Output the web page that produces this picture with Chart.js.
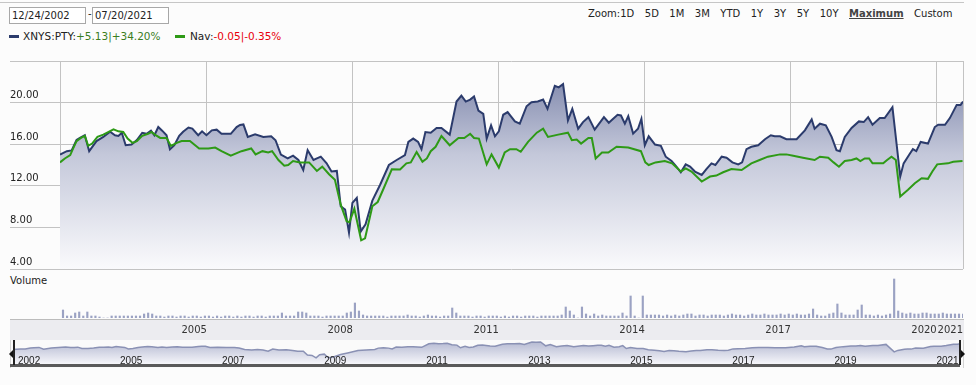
<!DOCTYPE html>
<html>
<head>
<meta charset="utf-8">
<title>PTY - precio y NAV</title>
<script src="https://cdn.jsdelivr.net/npm/chart.js@4.4.1/dist/chart.umd.min.js"></script>
<style>
    body {
        margin: 0;
        width: 976px;
        height: 385px;
        position: relative;
        overflow: hidden;
        background: #fcfcfc;
        font-family: "DejaVu Sans", Verdana, sans-serif;
        color: #222;
    }
    .abs { position: absolute; }
    canvas { position: absolute; left: 0; z-index: 2; }
    .topline { left: 0; top: 2px; width: 964px; height: 1px; background: #c6c6c6; }
    .datebox {
        top: 7px; width: 77px; height: 17px; box-sizing: border-box;
        border: 1px solid #a8a8a8; background: #fff;
        font: 10px "DejaVu Sans", sans-serif; color: #222;
        padding: 0 0 0 2px; margin: 0; outline: none;
    }
    .dash { left: 88px; top: 8px; font-size: 10px; }
    .zoom { left: 588px; top: 8px; font-size: 10px; white-space: nowrap; }
    .zoom span { margin-left: 10.5px; }
    .zoom span.first { margin-left: 0; }
    .zoom span.sel { font-weight: bold; text-decoration: underline; color: #444; }
    .legend { top: 30px; font-size: 10.5px; white-space: nowrap; }
    .swatch { height: 3px; width: 10px; }
    .up { color: #3b7d1f; }
    .down { color: #e8000b; }
    .vol-label { left: 10px; top: 275px; font-size: 10px; }
    .band { left: 10px; top: 319px; width: 954px; height: 21px; background: #ececf0; border-top: 1px solid #bcbcbc; box-sizing: border-box; }
    .navbox { left: 10px; top: 340px; width: 954px; height: 28px; background: #fafafa; border-left: 1px solid #d4d4d4; border-right: 1px solid #d4d4d4; box-sizing: border-box; }
    .scrollbar { left: 10px; top: 364px; width: 950px; height: 3px; background: #5a5a5a; z-index: 3; }
    .handle { top: 340px; width: 1.5px; height: 25px; background: #222; z-index: 3; }
    .tri-left { left: 9px; top: 350px; width: 0; height: 0; border-top: 4px solid transparent; border-bottom: 4px solid transparent; border-right: 4px solid #111; z-index: 3; }
    .tri-right { left: 961px; top: 350px; width: 0; height: 0; border-top: 4px solid transparent; border-bottom: 4px solid transparent; border-left: 4px solid #111; z-index: 3; }
</style>
</head>
<body>
<div class="abs topline"></div>
<input class="abs datebox" style="left:9px" type="text" value="12/24/2002">
<div class="abs dash">-</div>
<input class="abs datebox" style="left:92px" type="text" value="07/20/2021">
<div class="abs zoom">Zoom:<span class="first">1D</span><span>5D</span><span>1M</span><span>3M</span><span>YTD</span><span>1Y</span><span>3Y</span><span>5Y</span><span>10Y</span><span class="sel">Maximum</span><span>Custom</span></div>

<div class="abs swatch" style="left:9px; top:35px; background:#2b3b6c"></div>
<div class="abs legend" style="left:23px">XNYS:PTY:<span class="up">+5.13|+34.20%</span></div>
<div class="abs swatch" style="left:175px; top:35px; background:#2e9a16"></div>
<div class="abs legend" style="left:190px">Nav:<span class="down">-0.05|-0.35%</span></div>

<div class="abs vol-label">Volume</div>
<div class="abs band"></div>
<div class="abs navbox"></div>
<div class="abs scrollbar"></div>
<div class="abs handle" style="left:13px"></div>
<div class="abs handle" style="left:959px"></div>
<div class="abs tri-left"></div>
<div class="abs tri-right"></div>

<canvas id="priceChart" width="976" height="275" style="top:0"></canvas>
<canvas id="volumeChart" width="976" height="68" style="top:272px"></canvas>
<canvas id="navigatorChart" width="976" height="24" style="top:340px"></canvas>

<script>
// rango visible 12/24/2002 - 07/20/2021 en años decimales
const startYear = 2002.98;
const endYear = 2021.54;

// precio de mercado XNYS:PTY
const priceYears = [
    2002.98, 2003.12, 2003.22, 2003.32, 2003.39, 2003.49, 2003.58, 2003.73, 2003.87, 2004.01,
    2004.11, 2004.18, 2004.25, 2004.33, 2004.45, 2004.56, 2004.67, 2004.76, 2004.85, 2004.92,
    2005.00, 2005.08, 2005.17, 2005.24, 2005.33, 2005.43, 2005.51, 2005.62, 2005.70, 2005.82,
    2005.90, 2005.99, 2006.10, 2006.20, 2006.30, 2006.49, 2006.61, 2006.68, 2006.75, 2006.84,
    2006.99, 2007.16, 2007.32, 2007.41, 2007.52, 2007.66, 2007.77, 2007.88, 2007.98, 2008.07,
    2008.19, 2008.34, 2008.46, 2008.56, 2008.67, 2008.75, 2008.84, 2008.92, 2008.99, 2009.08,
    2009.16, 2009.26, 2009.40, 2009.56, 2009.74, 2009.90, 2010.07, 2010.14, 2010.24, 2010.34,
    2010.41, 2010.49, 2010.60, 2010.72, 2010.82, 2010.99, 2011.13, 2011.23, 2011.32, 2011.41,
    2011.49, 2011.58, 2011.68, 2011.75, 2011.84, 2011.92, 2012.00, 2012.09, 2012.18, 2012.33,
    2012.43, 2012.57, 2012.67, 2012.80, 2012.91, 2013.00, 2013.15, 2013.23, 2013.32, 2013.42,
    2013.51, 2013.63, 2013.73, 2013.84, 2013.97, 2014.16, 2014.26, 2014.35, 2014.44, 2014.51,
    2014.59, 2014.66, 2014.76, 2014.86, 2014.93, 2015.00, 2015.08, 2015.21, 2015.33, 2015.43,
    2015.55, 2015.65, 2015.74, 2015.84, 2015.93, 2016.03, 2016.17, 2016.27, 2016.37, 2016.45,
    2016.58, 2016.68, 2016.80, 2016.92, 2017.00, 2017.09, 2017.19, 2017.33, 2017.47, 2017.59,
    2017.67, 2017.78, 2017.91, 2018.12, 2018.29, 2018.43, 2018.49, 2018.60, 2018.72, 2018.84,
    2018.94, 2019.01, 2019.11, 2019.25, 2019.40, 2019.50, 2019.59, 2019.68, 2019.83, 2019.93,
    2020.09, 2020.25, 2020.32, 2020.45, 2020.51, 2020.58, 2020.67, 2020.82, 2020.96, 2021.03,
    2021.17, 2021.27, 2021.41, 2021.49, 2021.54
];
const priceValues = [
    15.00, 15.33, 15.40, 16.40, 16.60, 16.86, 15.33, 16.30, 16.70, 17.20,
    16.86, 16.80, 17.10, 15.90, 15.97, 16.40, 17.10, 17.00, 17.30, 16.86,
    17.65, 17.30, 16.86, 15.50, 15.90, 16.80, 17.20, 17.60, 17.50, 16.86,
    17.24, 16.86, 17.33, 17.40, 17.00, 17.00, 17.65, 17.85, 17.90, 16.70,
    16.95, 16.70, 16.76, 16.38, 15.00, 14.63, 14.90, 14.48, 13.52, 15.43,
    14.48, 14.80, 14.16, 13.37, 13.43, 10.03, 9.71, 7.50, 10.35, 10.83,
    7.59, 8.29, 10.57, 12.10, 14.00, 14.48, 14.95, 16.22, 16.54, 16.22,
    15.52, 17.17, 17.11, 17.56, 17.56, 16.92, 20.10, 20.67, 20.10, 20.29,
    20.60, 19.24, 18.92, 16.54, 17.81, 16.76, 17.24, 18.83, 19.08, 18.19,
    17.97, 19.65, 20.03, 20.10, 20.29, 19.40, 21.62, 21.46, 21.78, 18.29,
    19.40, 17.49, 18.13, 18.60, 17.40, 18.60, 18.06, 18.44, 18.83, 18.76,
    17.97, 18.70, 17.02, 17.49, 18.44, 15.90, 16.76, 15.97, 15.84, 14.80,
    14.38, 13.84, 13.30, 14.06, 13.84, 13.37, 13.05, 13.62, 14.16, 14.00,
    14.80, 14.70, 14.25, 14.06, 14.25, 15.52, 15.75, 15.90, 16.48, 16.86,
    16.76, 16.76, 16.48, 16.48, 17.33, 18.38, 17.49, 17.97, 17.81, 16.70,
    15.43, 15.33, 16.70, 17.56, 18.19, 18.13, 18.60, 17.87, 18.51, 18.51,
    19.56, 12.89, 14.16, 15.11, 15.52, 15.33, 16.22, 16.06, 17.65, 17.87,
    17.87, 18.51, 19.78, 19.78, 20.10
];

// valor liquidativo (Nav)
const navYears = [
    2002.98, 2003.08, 2003.19, 2003.25, 2003.32, 2003.41, 2003.49, 2003.56, 2003.64, 2003.75,
    2003.87, 2003.97, 2004.08, 2004.18, 2004.28, 2004.37, 2004.47, 2004.56, 2004.67, 2004.79,
    2004.86, 2004.93, 2005.04, 2005.17, 2005.26, 2005.38, 2005.48, 2005.65, 2005.84, 2006.03,
    2006.17, 2006.30, 2006.49, 2006.71, 2006.91, 2007.00, 2007.14, 2007.26, 2007.34, 2007.47,
    2007.59, 2007.67, 2007.77, 2007.91, 2008.10, 2008.26, 2008.37, 2008.51, 2008.63, 2008.75,
    2008.87, 2008.93, 2009.03, 2009.17, 2009.25, 2009.40, 2009.51, 2009.62, 2009.80, 2009.97,
    2010.10, 2010.19, 2010.31, 2010.43, 2010.52, 2010.60, 2010.70, 2010.82, 2010.99, 2011.17,
    2011.29, 2011.41, 2011.49, 2011.59, 2011.75, 2011.85, 2012.00, 2012.12, 2012.23, 2012.36,
    2012.45, 2012.60, 2012.78, 2012.91, 2013.01, 2013.22, 2013.42, 2013.50, 2013.60, 2013.69,
    2013.84, 2013.91, 2013.99, 2014.12, 2014.25, 2014.42, 2014.66, 2014.92, 2015.01, 2015.08,
    2015.22, 2015.41, 2015.56, 2015.74, 2015.84, 2015.96, 2016.17, 2016.34, 2016.47, 2016.61,
    2016.78, 2016.99, 2017.19, 2017.36, 2017.53, 2017.78, 2017.91, 2018.05, 2018.25, 2018.49,
    2018.60, 2018.77, 2018.88, 2018.99, 2019.11, 2019.25, 2019.35, 2019.43, 2019.52, 2019.61,
    2019.68, 2019.90, 2019.98, 2020.07, 2020.16, 2020.25, 2020.41, 2020.55, 2020.69, 2020.82,
    2020.91, 2021.01, 2021.23, 2021.34, 2021.53
];
const navValues = [
    14.25, 14.63, 14.95, 15.59, 16.30, 16.60, 16.80, 15.84, 16.06, 16.70,
    16.92, 17.17, 17.43, 17.24, 17.17, 16.54, 16.13, 16.30, 16.80, 17.00,
    17.17, 16.92, 16.60, 16.60, 15.84, 16.13, 16.30, 16.30, 15.59, 15.59,
    15.68, 15.33, 14.89, 15.33, 15.59, 15.02, 15.33, 15.20, 15.33, 14.48,
    13.94, 14.00, 14.38, 14.25, 14.25, 13.43, 13.84, 13.11, 12.57, 10.19,
    8.60, 8.50, 9.80, 6.76, 6.95, 10.03, 10.44, 11.62, 13.59, 13.56,
    14.16, 14.25, 15.25, 14.32, 14.63, 15.33, 15.75, 16.79, 15.90, 16.60,
    16.60, 17.00, 16.60, 16.54, 14.06, 15.02, 13.75, 15.20, 15.52, 15.52,
    15.27, 16.22, 17.11, 17.49, 16.70, 16.92, 17.11, 16.38, 16.44, 16.06,
    16.60, 16.60, 14.63, 15.20, 15.20, 15.75, 15.68, 15.33, 14.25, 14.00,
    14.25, 14.38, 14.16, 13.37, 13.68, 13.37, 12.41, 12.89, 12.98, 13.30,
    13.62, 13.52, 14.16, 14.48, 14.80, 15.02, 15.02, 14.89, 14.70, 14.48,
    14.80, 14.70, 14.25, 13.84, 14.38, 14.48, 14.63, 14.38, 14.63, 14.63,
    14.16, 14.16, 14.48, 14.80, 14.48, 10.98, 11.62, 12.25, 12.73, 12.67,
    13.37, 14.06, 14.16, 14.32, 14.38
];

// volumen mensual desde enero 2003
const volumeStartYear = 2003;
const volumeByMonth = [
    8, 2, 2, 5, 6, 2, 6, 2, 2, 1, 0, 0,
    2, 2, 2, 2, 2, 2, 2, 2, 4, 5, 4, 2,
    2, 1, 2, 2, 1, 2, 2, 1, 2, 2, 1, 2,
    2, 1, 2, 1, 2, 2, 1, 2, 1, 2, 2, 1,
    2, 2, 1, 2, 2, 2, 5, 2, 2, 2, 6, 6,
    5, 2, 2, 2, 1, 2, 2, 2, 2, 2, 5, 6,
    15, 7, 3, 2, 2, 2, 2, 2, 1, 2, 2, 2,
    2, 3, 2, 2, 1, 2, 3, 2, 2, 1, 2, 2,
    10, 5, 2, 2, 2, 1, 2, 2, 1, 2, 2, 2,
    1, 2, 1, 2, 2, 1, 2, 2, 2, 1, 2, 2,
    2, 2, 2, 3, 11, 7, 3, 0, 11, 4, 2, 4,
    2, 3, 2, 2, 2, 2, 5, 2, 22, 2, 0, 22,
    3, 3, 3, 3, 2, 3, 2, 3, 2, 3, 4, 4,
    2, 3, 3, 2, 3, 3, 3, 2, 3, 4, 3, 3,
    2, 3, 4, 3, 3, 4, 3, 3, 3, 4, 3, 4,
    3, 4, 3, 3, 4, 9, 3, 2, 2, 4, 5, 14,
    5, 3, 3, 3, 8, 13, 3, 3, 2, 3, 2, 3,
    4, 39, 7, 5, 4, 5, 4, 4, 5, 5, 4, 4,
    4, 5, 4, 4, 4, 4, 4
];

// ejes
const yTicks = [4, 8, 12, 16, 20, 24];
const gridYears = [2006, 2009, 2012, 2015, 2018, 2021];
const bandLabels = ['2005', '2008', '2011', '2014', '2017', '2020', '2021'];
const navTickYears = [2002.98, 2004.98, 2006.98, 2008.98, 2010.98, 2012.98, 2014.98, 2016.98, 2018.98, 2020.98];
const navTickLabels = ['2002', '2005', '2007', '2009', '2011', '2013', '2015', '2017', '2019', '2021'];

const gridColor = '#c3c3c3';

function toPoints(xs, ys) {
    return xs.map((x, i) => ({ x: x, y: ys[i] }));
}

function verticalGradient(context, stops) {
    const chart = context.chart;
    const area = chart.chartArea;
    if (!area) {
        return 'rgba(0,0,0,0)';
    }
    const g = chart.ctx.createLinearGradient(0, area.top, 0, area.bottom);
    stops.forEach(s => g.addColorStop(s[0], s[1]));
    return g;
}

function renderPriceChart() {
    const ctx = document.getElementById('priceChart');

    const datasets = [
        {
            label: 'Nav',
            data: toPoints(navYears, navValues),
            borderColor: '#2e9a16',
            borderWidth: 2,
            pointRadius: 0,
            fill: false
        },
        {
            label: 'XNYS:PTY',
            data: toPoints(priceYears, priceValues),
            borderColor: '#2b3b6c',
            borderWidth: 2,
            pointRadius: 0,
            fill: 'start',
            backgroundColor: (context) => verticalGradient(context, [
                [0, 'rgb(116,125,164)'],
                [0.45, 'rgb(196,200,218)'],
                [1, 'rgb(250,250,252)']
            ])
        }
    ];

    const options = {
        responsive: false,
        animation: false,
        events: [],
        layout: { padding: { left: 10, right: 13, top: 61, bottom: 5 } },
        plugins: {
            legend: { display: false },
            tooltip: { enabled: false }
        },
        scales: {
            x: {
                type: 'linear',
                min: startYear,
                max: endYear,
                afterBuildTicks: (scale) => {
                    scale.ticks = [startYear, ...gridYears, endYear].map(v => ({ value: v }));
                },
                ticks: { display: false },
                grid: { color: gridColor, drawTicks: false },
                border: { display: false }
            },
            y: {
                min: 4,
                max: 24,
                afterBuildTicks: (scale) => {
                    scale.ticks = yTicks.map(v => ({ value: v }));
                },
                afterFit: (scale) => {
                    scale.width = 50;
                },
                ticks: {
                    crossAlign: 'far',
                    labelOffset: -7,
                    padding: 0,
                    color: '#222',
                    font: { family: 'DejaVu Sans', size: 10 },
                    callback: (value) => value === 24 ? '' : value.toFixed(2)
                },
                grid: { color: gridColor, tickLength: 50, tickColor: gridColor },
                border: { display: false }
            }
        }
    };

    new Chart(ctx, { type: 'line', data: { datasets: datasets }, options: options });
}

function renderVolumeChart() {
    const ctx = document.getElementById('volumeChart');

    const volumePoints = volumeByMonth.map((v, i) => ({
        x: volumeStartYear + (i + 0.5) / 12,
        y: v
    }));

    new Chart(ctx, {
        type: 'bar',
        data: {
            datasets: [{
                label: 'Volume',
                data: volumePoints,
                backgroundColor: '#9ba2c3',
                barThickness: 1.5
            }]
        },
        options: {
            responsive: false,
            animation: false,
            events: [],
            layout: { padding: { left: 60, right: 13, top: 0, bottom: 0 } },
            plugins: {
                legend: { display: false },
                tooltip: { enabled: false }
            },
            scales: {
                x: {
                    type: 'linear',
                    min: startYear,
                    max: endYear,
                    offset: false,
                    afterBuildTicks: (scale) => {
                        scale.ticks = [...gridYears, endYear].map(v => ({ value: v }));
                    },
                    afterFit: (scale) => {
                        scale.height = 22;
                    },
                    ticks: {
                        align: 'end',
                        autoSkip: false,
                        maxRotation: 0,
                        padding: 6,
                        color: '#333',
                        font: { family: 'DejaVu Sans', size: 10 },
                        callback: (value, index) => bandLabels[index]
                    },
                    grid: { display: false, drawTicks: false, offset: false },
                    border: { display: false }
                },
                y: { display: false, min: 0, max: 46 }
            }
        }
    });
}

function renderNavigatorChart() {
    const ctx = document.getElementById('navigatorChart');

    new Chart(ctx, {
        type: 'line',
        data: {
            datasets: [{
                label: 'navigator',
                data: toPoints(priceYears, priceValues),
                borderColor: '#8a91b4',
                borderWidth: 1.5,
                pointRadius: 0,
                fill: 'start',
                backgroundColor: (context) => verticalGradient(context, [
                    [0, 'rgb(176,181,207)'],
                    [1, 'rgb(246,246,250)']
                ])
            }]
        },
        options: {
            responsive: false,
            animation: false,
            events: [],
            layout: { padding: { left: 13, right: 16, top: 0, bottom: 0 } },
            plugins: {
                legend: { display: false },
                tooltip: { enabled: false }
            },
            scales: {
                x: {
                    type: 'linear',
                    min: startYear,
                    max: endYear,
                    afterBuildTicks: (scale) => {
                        scale.ticks = navTickYears.map(v => ({ value: v }));
                    },
                    afterFit: (scale) => {
                        scale.height = 0;
                    },
                    ticks: {
                        z: 1,
                        mirror: true,
                        align: 'start',
                        labelOffset: 5,
                        padding: -3,
                        autoSkip: false,
                        maxRotation: 0,
                        color: '#222',
                        font: { family: 'Liberation Sans', size: 10 },
                        callback: (value, index) => navTickLabels[index]
                    },
                    grid: { display: false, drawTicks: false },
                    border: { display: false }
                },
                y: { display: false, min: 2, max: 23.5 }
            }
        }
    });
}

renderPriceChart();
renderVolumeChart();
renderNavigatorChart();
</script>
</body>
</html>
